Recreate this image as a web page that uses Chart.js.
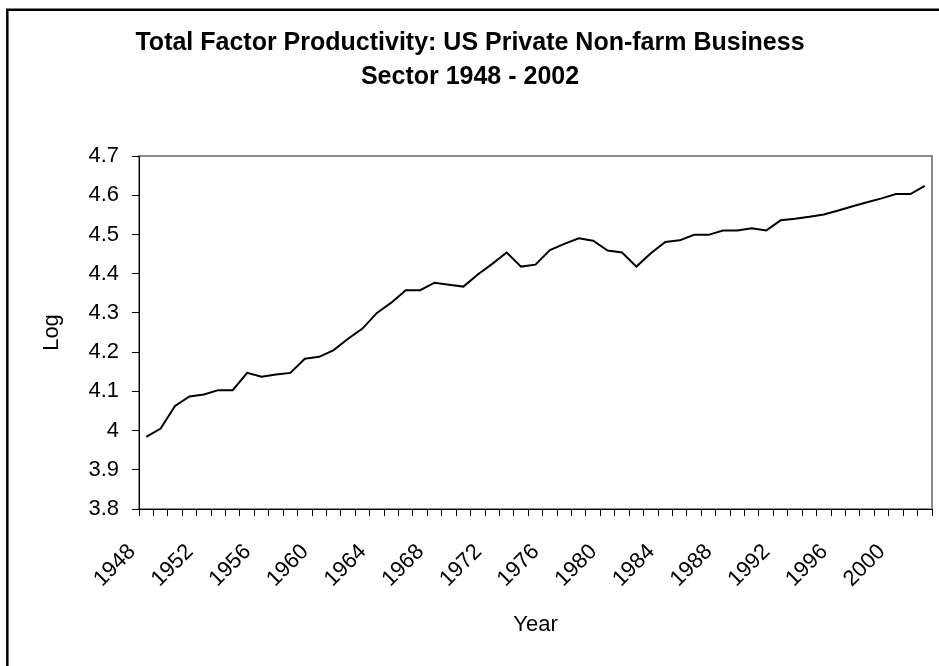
<!DOCTYPE html>
<html>
<head>
<meta charset="utf-8">
<script src="https://cdn.jsdelivr.net/npm/chart.js@4/dist/chart.umd.min.js"></script>
<style>
  html, body { margin: 0; padding: 0; background: #fff; }
  #wrap { width: 939px; height: 666px; position: relative; }
</style>
</head>
<body>
<div id="wrap"><canvas id="c" width="939" height="666"></canvas></div>
<script>
// ---- data ----
const years = [
  1948,1949,1950,1951,1952,1953,1954,1955,1956,1957,
  1958,1959,1960,1961,1962,1963,1964,1965,1966,1967,
  1968,1969,1970,1971,1972,1973,1974,1975,1976,1977,
  1978,1979,1980,1981,1982,1983,1984,1985,1986,1987,
  1988,1989,1990,1991,1992,1993,1994,1995,1996,1997,
  1998,1999,2000,2001,2002
];
const tfpLog = [
  3.984,4.005,4.063,4.087,4.092,4.103,4.103,4.147,4.137,4.143,
  4.147,4.183,4.188,4.205,4.234,4.260,4.300,4.326,4.358,4.358,
  4.377,4.372,4.367,4.398,4.425,4.454,4.418,4.423,4.460,4.476,
  4.490,4.484,4.459,4.454,4.418,4.452,4.481,4.485,4.499,4.499,
  4.510,4.510,4.516,4.510,4.536,4.540,4.545,4.551,4.561,4.572,
  4.582,4.592,4.603,4.603,4.624
];
const yTicks = [3.8,3.9,4.0,4.1,4.2,4.3,4.4,4.5,4.6,4.7];
const titleLines = ['Total Factor Productivity: US Private Non-farm Business', 'Sector 1948 - 2002'];
const xTitle = 'Year';
const yTitle = 'Log';

const FONT = "'Liberation Sans', Arial, sans-serif";

const framePlugin = {
  id: 'frame',
  beforeDraw(chart) {
    const ctx = chart.ctx;
    const a = chart.chartArea;
    ctx.save();
    ctx.fillStyle = '#fff';
    ctx.fillRect(0, 0, chart.width, chart.height);
    // outer chart frame (left + top visible)
    ctx.strokeStyle = '#000';
    ctx.lineWidth = 2.5;
    ctx.beginPath();
    ctx.moveTo(7.3, chart.height + 5);
    ctx.lineTo(7.3, 9.7);
    ctx.lineTo(chart.width + 5, 9.7);
    ctx.stroke();
    // plot area border
    ctx.strokeStyle = '#8a8a8a';
    ctx.lineWidth = 2;
    ctx.strokeRect(a.left, a.top, a.right - a.left, a.bottom - a.top);
    ctx.restore();
  }
};

new Chart(document.getElementById('c'), {
  type: 'line',
  data: {
    labels: years,
    datasets: [{
      data: tfpLog,
      borderColor: '#000',
      borderWidth: 2,
      pointRadius: 0,
      tension: 0,
      fill: false
    }]
  },
  options: {
    responsive: false,
    animation: false,
    events: [],
    layout: { padding: { left: 8, right: 7, top: 0, bottom: 0 } },
    plugins: {
      legend: { display: false },
      tooltip: { enabled: false },
      title: {
        display: true,
        text: titleLines,
        color: '#000',
        font: { family: FONT, size: 25, weight: 'bold', lineHeight: 34 / 25 },
        padding: { top: 26, bottom: 62 }
      }
    },
    scales: {
      x: {
        type: 'category',
        offset: true,
        grid: {
          offset: true,
          drawOnChartArea: false,
          drawTicks: true,
          tickLength: 7,
          color: '#000',
          lineWidth: 1
        },
        border: { display: true, color: '#000', width: 1 },
        ticks: {
          autoSkip: false,
          maxRotation: 45,
          minRotation: 45,
          color: '#000',
          font: { family: FONT, size: 22 },
          padding: 23,
          labelOffset: -14,
          callback: function(value, index) {
            const y = years[index];
            return ((y - years[0]) % 4 === 0) ? String(y) : '';
          }
        },
        title: {
          display: true,
          text: xTitle,
          color: '#000',
          font: { family: FONT, size: 22 },
          padding: { top: 0, bottom: 28 }
        },
        afterFit(scale) {
          scale.height = 157;
          scale.paddingLeft = 0;
          scale.paddingRight = 0;
        }
      },
      y: {
        min: yTicks[0],
        max: yTicks[yTicks.length - 1],
        grid: {
          drawOnChartArea: false,
          drawTicks: true,
          tickLength: 7,
          color: '#000',
          lineWidth: 1
        },
        border: { display: true, color: '#000', width: 1 },
        afterBuildTicks(scale) {
          scale.ticks = yTicks.map(v => ({ value: v }));
        },
        ticks: {
          color: '#000',
          font: { family: FONT, size: 22 },
          padding: 13,
          callback: function(value) {
            return String(parseFloat(Number(value).toFixed(1)));
          }
        },
        title: {
          display: true,
          text: yTitle,
          color: '#000',
          font: { family: FONT, size: 22 },
          padding: { top: 31, bottom: 0 }
        },
        afterFit(scale) {
          scale.width = 131;
          scale.paddingTop = 0;
          scale.paddingBottom = 0;
        }
      }
    }
  },
  plugins: [framePlugin]
});
</script>
</body>
</html>
